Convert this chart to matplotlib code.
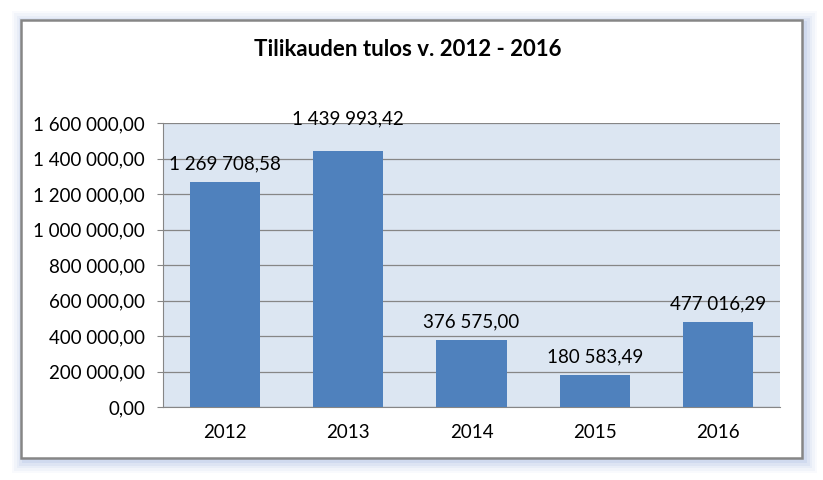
import matplotlib
matplotlib.use("Agg")
import matplotlib.pyplot as plt
from matplotlib.patches import Rectangle
from matplotlib.ticker import FuncFormatter

years = ["2012", "2013", "2014", "2015", "2016"]
tulos = [1269708.58, 1439993.42, 376575.00, 180583.49, 477016.29]
yticks = [0, 200000, 400000, 600000, 800000, 1000000, 1200000, 1400000, 1600000]
title = "Tilikauden tulos v. 2012 - 2016"

# label lift above each bar, in points (2013 label was moved up by hand)
label_lift = [7, 17, 7, 7, 7]

plt.rcParams['font.family'] = ['Lato', 'DejaVu Sans']

W, H = 823, 480
fig = plt.figure(figsize=(W / 100, H / 100), dpi=100)
fig.patch.set_facecolor('white')


def fi(x0, y0, x1, y1):
    # pixel box (top-left origin) -> figure fraction
    return [x0 / W, 1 - y1 / H, (x1 - x0) / W, (y1 - y0) / H]


def fmt(v):
    return f"{v:,.2f}".replace(",", " ").replace(".", ",")


# blue glow behind the chart frame
for i, a in enumerate([0.05, 0.07, 0.09, 0.12, 0.16]):
    d = 12 - i * 2.4
    b = fi(21 - d + 3, 20 - d + 3, 802 + d + 3, 458 + d + 3)
    fig.patches.append(Rectangle((b[0], b[1]), b[2], b[3], transform=fig.transFigure,
                                 facecolor='#8EA9DB', edgecolor='none', alpha=a, zorder=0))
b = fi(21, 20, 802, 458)
fig.patches.append(Rectangle((b[0], b[1]), b[2], b[3], transform=fig.transFigure,
                             facecolor='white', edgecolor='#868686', linewidth=1.8, zorder=1))

ax = fig.add_axes(fi(163, 123, 780, 407))
ax.set_zorder(2)
ax.set_facecolor('#DCE6F2')

x = range(len(years))
ax.bar(x, tulos, width=0.57, color='#4F81BD', zorder=3)
for xi, v, lift in zip(x, tulos, label_lift):
    ax.annotate(fmt(v), (xi, v), xytext=(0, lift), textcoords='offset points',
                ha='center', va='bottom', fontsize=13.5, color='black',
                annotation_clip=False, zorder=4)

ax.set_xlim(-0.5, len(years) - 0.5)
ax.set_ylim(0, 1600000)
ax.set_yticks(yticks)
ax.yaxis.set_major_formatter(FuncFormatter(lambda v, p: fmt(v)))
ax.set_xticks(list(x))
ax.set_xticklabels(years)
ax.grid(axis='y', color='#868686', linewidth=0.9, zorder=1)
ax.set_axisbelow(True)
for sp in ['top', 'right']:
    ax.spines[sp].set_visible(False)
ax.spines['left'].set_color('#868686')
ax.spines['bottom'].set_color('#868686')
ax.tick_params(axis='y', length=4, color='#868686', labelsize=13.5, pad=9)
ax.tick_params(axis='x', length=0, labelsize=13.5, pad=12)

fig.text(408 / W, 1 - 50 / H, title, ha='center', va='center',
         fontsize=16, fontweight='bold')

fig.savefig("out.png", dpi=100, facecolor='white')
